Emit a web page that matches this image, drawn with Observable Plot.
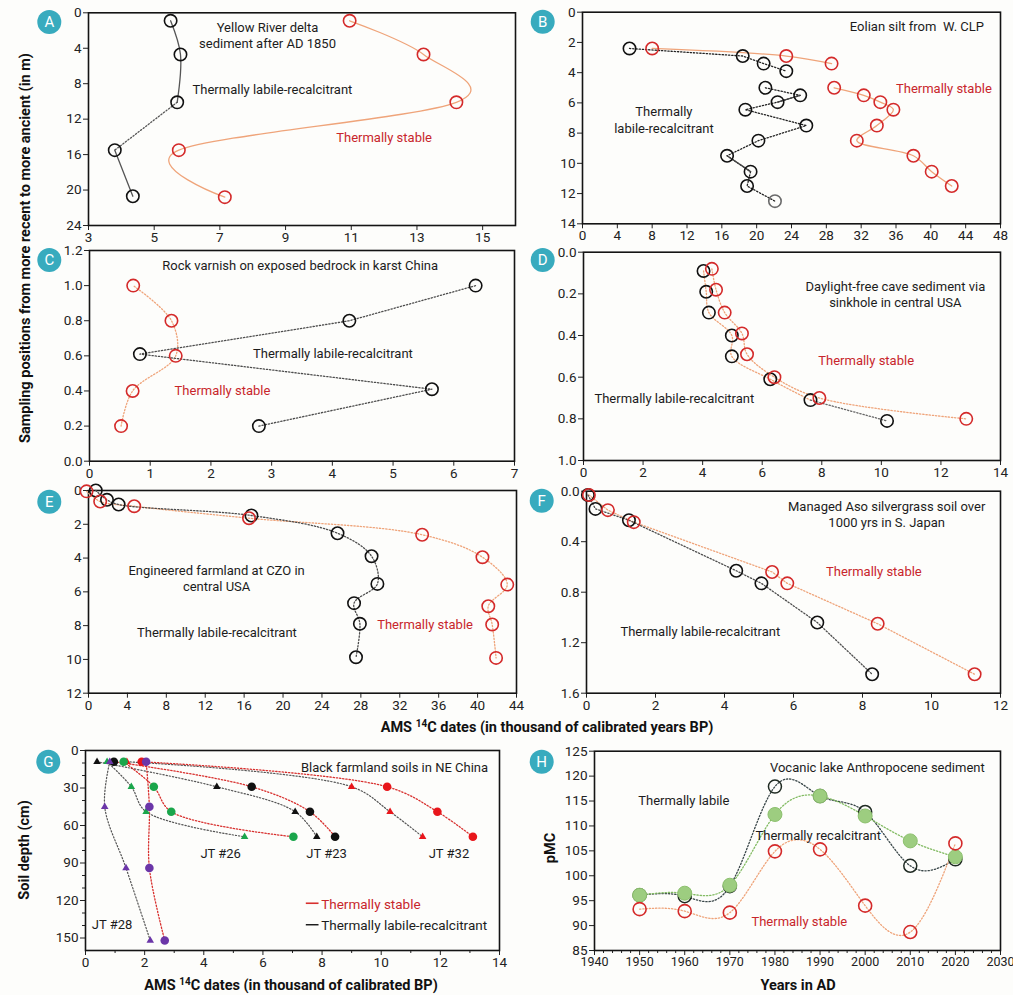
<!DOCTYPE html>
<html><head><meta charset="utf-8">
<script src="https://cdn.jsdelivr.net/npm/d3@7"></script>
<script src="https://cdn.jsdelivr.net/npm/@observablehq/plot@0.6"></script>
<style>
html,body{margin:0;padding:0;background:#fdfdfb;}
#fig{position:relative;width:1013px;height:995px;font-family:Roboto,sans-serif;}
#fig svg{position:absolute;left:0;top:0;}
</style></head><body><div id="fig"></div>
<script>
// ---------- DATA ----------
// Panel A: Yellow River delta (x: kyr BP, y: m)
const aLabX = [5.5, 5.8, 5.7, 3.8, 4.35];
const aLabY = [0.9, 4.7, 10.1, 15.5, 20.7];
const aStbX = [10.95, 13.2, 14.2, 5.75, 7.15];
const aStbY = [0.9, 4.7, 10.1, 15.5, 20.8];
// Panel B: Eolian silt W. CLP
const bLabX = [5.4, 18.4, 20.8, 23.4, 21.0, 25.0, 22.4, 18.7, 25.7, 20.2, 16.6, 19.3, 18.9, 22.1];
const bLabY = [2.4, 2.9, 3.4, 3.9, 5.0, 5.5, 5.95, 6.45, 7.5, 8.5, 9.5, 10.55, 11.5, 12.5];
const bStbX = [8.0, 23.4, 28.6, 28.9, 32.3, 34.2, 35.7, 33.8, 31.5, 38.0, 40.1, 42.4];
const bStbY = [2.4, 2.9, 3.4, 5.0, 5.5, 5.95, 6.45, 7.5, 8.5, 9.5, 10.55, 11.5];
// Panel C: Rock varnish
const cStbX = [0.52, 0.71, 1.42, 1.35, 0.72];
const cStbY = [0.2, 0.4, 0.6, 0.8, 1.0];
const cLabX = [2.79, 5.64, 0.83, 4.28, 6.36];
const cLabY = [0.2, 0.41, 0.61, 0.8, 1.0];
// Panel D: Cave sediment
const dLabX = [4.03, 4.12, 4.21, 4.98, 4.98, 6.27, 7.62, 10.19];
const dLabY = [0.09, 0.19, 0.29, 0.40, 0.50, 0.61, 0.71, 0.81];
const dStbX = [4.31, 4.45, 4.74, 5.32, 5.49, 6.41, 7.92, 12.85];
const dStbY = [0.08, 0.18, 0.29, 0.39, 0.49, 0.60, 0.70, 0.80];
// Panel E: Engineered farmland CZO
const eLabX = [0.75, 1.9, 3.1, 16.75, 25.6, 29.1, 29.7, 27.3, 27.9, 27.5];
const eLabY = [0.0, 0.55, 0.83, 1.48, 2.53, 3.89, 5.53, 6.67, 7.89, 9.87];
const eStbX = [-0.2, 1.2, 4.7, 16.5, 34.3, 40.5, 43.05, 41.1, 41.5, 41.9];
const eStbY = [0.05, 0.65, 0.93, 1.64, 2.62, 3.95, 5.57, 6.85, 7.93, 9.91];
// Panel F: Aso silvergrass soil
const fLabX = [0.04, 0.26, 1.23, 4.34, 5.07, 6.69, 8.28];
const fLabY = [0.03, 0.14, 0.23, 0.63, 0.73, 1.04, 1.45];
const fStbX = [0.07, 0.62, 1.37, 5.38, 5.82, 8.44, 11.25];
const fStbY = [0.03, 0.15, 0.245, 0.64, 0.73, 1.05, 1.45];
// Panel G: Black farmland soils (depth cm)
const gDepth = [9, 29, 49, 69];
const gDepth28 = [9, 45, 94, 152];
const gJT32Stb = [1.9, 10.2, 11.9, 13.1], gJT32Lab = [1.4, 9.0, 10.3, 11.4];
const gJT23Stb = [0.96, 5.62, 7.59, 8.44], gJT23Lab = [0.39, 4.44, 7.09, 7.82];
const gJT26Stb = [1.29, 2.31, 2.90, 7.03], gJT26Lab = [0.73, 1.55, 2.05, 5.38];
const gJT28Stb = [2.05, 2.16, 2.16, 2.68], gJT28Lab = [0.82, 0.65, 1.37, 2.19];
// Panel H: Volcanic lake (pMC)
const hYears = [1950, 1960, 1970, 1980, 1990, 2000, 2010, 2020];
const hLabile = [96.1, 95.9, 97.9, 117.9, 116.0, 112.8, 102.0, 103.3];
const hRecalc = [96.1, 96.5, 98.1, 112.3, 116.0, 112.0, 107.0, 103.8];
const hStable = [93.3, 92.9, 92.6, 104.9, 105.3, 94.0, 88.7, 106.5];

// ---------- HELPERS ----------
const W = 1013, H = 995;
const fig = document.getElementById("fig");
const P = (xs, ys) => xs.map((x, i) => ({x, y: ys[i]}));
const seq = (a, b, s) => d3.range(a, b + s / 2, s).map(v => +v.toFixed(6));
const red = "#d42a2a", orange = "#efa47a", blk = "#111", gray = "#4d4d4d", txtRed = "#c8262b", txt = "#1c1c1c";
const dash = "1.3,1.9";
const FS = 13;

function panel(c) {
  const axes = [
    Plot.axisX({ticks: c.xTicks, tickSize: 5, tickPadding: 2, label: null, anchor: "bottom", fontSize: c.xFont || 13.5, tickFormat: c.xFormat || d3.format("d"), color: "#222"}),
    Plot.axisY({ticks: c.yTicks, tickSize: 5, tickPadding: 2, label: null, anchor: "left", fontSize: 13.5, tickFormat: c.yFormat || d3.format("d"), color: "#222"})
  ];
  if (c.xMinor) axes.push(Plot.axisX({ticks: c.xMinor, tickSize: 3, fill: "none", label: null, anchor: "bottom", color: "#222"}));
  if (c.yMinor) axes.push(Plot.axisY({ticks: c.yMinor, tickSize: 3, fill: "none", label: null, anchor: "left", color: "#222"}));
  const svg = Plot.plot({
    width: W, height: H,
    marginLeft: c.x0, marginRight: W - c.x1, marginTop: c.y0, marginBottom: H - c.y1,
    x: {domain: c.xDomain},
    y: {domain: c.yDomain, reverse: !!c.yReverse},
    style: {background: "transparent", overflow: "visible", fontFamily: "Roboto, sans-serif", fontSize: "13px", color: "#1c1c1c"},
    marks: [...axes, Plot.frame({stroke: "#141414", strokeWidth: 1.6}), ...c.marks]
  });
  fig.append(svg);
}
const L = (data, o) => Plot.line(data, {x: "x", y: "y", strokeWidth: 1.3, ...o});
const circ = (data, col, r = 6.2) => Plot.dot(data, {x: "x", y: "y", r, stroke: col, strokeWidth: 1.6, fill: "none"});
const T = (x, y, text, fill = txt, o = {}) => Plot.text([{x, y}], {x: "x", y: "y", text: () => text, fill, fontSize: FS, lineHeight: 1.25, ...o});

// ---------- PANEL A ----------
const aLab = P(aLabX, aLabY), aStb = P(aStbX, aStbY);
panel({x0: 88, x1: 515, y0: 12.3, y1: 225, xDomain: [3, 16], yDomain: [0, 24], yReverse: true,
  xTicks: seq(3, 15, 2), yTicks: seq(0, 24, 4),
  marks: [
    L(aStb, {stroke: orange, curve: "cardinal"}),
    L(aLab.slice(0, 3), {stroke: "#555", curve: "catmull-rom"}),
    L(aLab.slice(2, 4), {stroke: "#555", strokeDasharray: dash}),
    L(aLab.slice(3, 5), {stroke: "#555"}),
    circ(aLab, blk), circ(aStb, red),
    T(8.45, 2.45, "Yellow River delta\nsediment after AD 1850"),
    T(8.6, 8.57, "Thermally labile-recalcitrant"),
    T(12.0, 14.04, "Thermally stable", txtRed)
  ]});

// ---------- PANEL B ----------
const bLab = P(bLabX, bLabY), bStb = P(bStbX, bStbY);
panel({x0: 582, x1: 1000, y0: 11.7, y1: 223.3, xDomain: [0, 48], yDomain: [0, 14], yReverse: true,
  xTicks: seq(0, 48, 4), yTicks: seq(0, 14, 2),
  marks: [
    L(bStb.slice(0, 3), {stroke: orange, curve: "catmull-rom"}),
    L(bStb.slice(3), {stroke: orange, curve: "catmull-rom"}),
    L(bLab.slice(0, 4), {stroke: "#222", strokeDasharray: dash}),
    L(bLab.slice(4), {stroke: "#222", strokeDasharray: dash}),
    L(bLab.slice(5, 7), {stroke: "#444"}),
    L(bLab.slice(10, 12), {stroke: "#444"}),
    circ(bLab.slice(0, 13), blk), circ(bLab.slice(13), "#6a6a6a"), circ(bStb, red),
    T(38.4, 0.88, "Eolian silt from  W. CLP"),
    T(9.35, 7.09, "Thermally\nlabile-recalcitrant"),
    T(41.5, 5.0, "Thermally stable", txtRed)
  ]});

// ---------- PANEL C ----------
const cLab = P(cLabX, cLabY), cStb = P(cStbX, cStbY);
panel({x0: 89, x1: 514, y0: 250, y1: 460.7, xDomain: [0, 7], yDomain: [0, 1.2],
  xTicks: seq(0, 7, 1), yTicks: seq(0, 1.2, 0.2), yFormat: d3.format(".1f"),
  marks: [
    L(cStb, {stroke: orange, strokeDasharray: dash, curve: "catmull-rom"}),
    L(cLab, {stroke: gray, strokeDasharray: dash}),
    circ(cLab, blk), circ(cStb, red),
    T(3.47, 1.118, "Rock varnish on exposed bedrock in karst China"),
    T(4.01, 0.617, "Thermally labile-recalcitrant"),
    T(2.19, 0.408, "Thermally stable", txtRed)
  ]});

// ---------- PANEL D ----------
const dLab = P(dLabX, dLabY), dStb = P(dStbX, dStbY);
panel({x0: 583, x1: 1000, y0: 251.7, y1: 460, xDomain: [0, 14], yDomain: [0, 1], yReverse: true,
  xTicks: seq(0, 14, 2), yTicks: seq(0, 1, 0.2), yFormat: d3.format(".1f"),
  marks: [
    L(dLab.slice(0, 7), {stroke: orange, strokeDasharray: dash, curve: "catmull-rom"}),
    L(dLab.slice(6), {stroke: "#666", strokeDasharray: dash}),
    L(dStb, {stroke: orange, strokeDasharray: dash, curve: "catmull-rom"}),
    circ(dLab, blk), circ(dStb, red),
    T(10.47, 0.2, "Daylight-free cave sediment via\nsinkhole in central USA"),
    T(9.49, 0.517, "Thermally stable", txtRed),
    T(3.05, 0.70, "Thermally labile-recalcitrant")
  ]});

// ---------- PANEL E ----------
const eLab = P(eLabX, eLabY), eStb = P(eStbX, eStbY);
panel({x0: 88, x1: 516, y0: 490, y1: 692.7, xDomain: [0, 44], yDomain: [0, 12], yReverse: true,
  xTicks: seq(0, 44, 4), yTicks: seq(0, 12, 2),
  marks: [
    L(eStb, {stroke: orange, strokeDasharray: dash, curve: "catmull-rom"}),
    L(eLab, {stroke: gray, strokeDasharray: dash, curve: "catmull-rom"}),
    circ(eLab, blk), circ(eStb, red),
    T(13.17, 5.16, "Engineered farmland at CZO in\ncentral USA"),
    T(13.2, 8.39, "Thermally labile-recalcitrant"),
    T(34.6, 7.9, "Thermally stable", txtRed)
  ]});

// ---------- PANEL F ----------
const fLab = P(fLabX, fLabY), fStb = P(fStbX, fStbY);
panel({x0: 586, x1: 1000, y0: 490.7, y1: 692.7, xDomain: [0, 12], yDomain: [0, 1.6], yReverse: true,
  xTicks: seq(0, 12, 2), yTicks: seq(0, 1.6, 0.4), yFormat: d3.format(".1f"),
  marks: [
    L(fStb, {stroke: orange, strokeDasharray: dash}),
    L(fLab, {stroke: gray, strokeDasharray: dash}),
    circ(fLab, blk), circ(fStb, red),
    T(8.7, 0.182, "Managed Aso silvergrass soil over\n1000 yrs in S. Japan"),
    T(8.33, 0.634, "Thermally stable", txtRed),
    T(3.3, 1.109, "Thermally labile-recalcitrant")
  ]});

// ---------- PANEL G ----------
const gSites = [
  {stb: P(gJT32Stb, gDepth), lab: P(gJT32Lab, gDepth), col: "#e8161b"},
  {stb: P(gJT23Stb, gDepth), lab: P(gJT23Lab, gDepth), col: "#111111"},
  {stb: P(gJT26Stb, gDepth), lab: P(gJT26Lab, gDepth), col: "#1aa64b"},
  {stb: P(gJT28Stb, gDepth28), lab: P(gJT28Lab, gDepth28), col: "#6b36a8"}
];
const gMarks = [];
for (const s of gSites) {
  gMarks.push(L(s.lab, {stroke: "#555", strokeWidth: 1.2, strokeDasharray: dash, curve: "catmull-rom"}));
  gMarks.push(L(s.stb, {stroke: "#d8302e", strokeWidth: 1.3, strokeDasharray: dash, curve: "catmull-rom"}));
}
for (const s of gSites) {
  gMarks.push(Plot.dot(s.lab, {x: "x", y: "y", symbol: "triangle", r: 2.8, fill: s.col}));
  gMarks.push(Plot.dot(s.stb, {x: "x", y: "y", r: 4.3, fill: s.col}));
}
panel({x0: 85, x1: 499, y0: 750, y1: 950, xDomain: [0, 14], yDomain: [0, 160], yReverse: true,
  xTicks: seq(0, 14, 2), yTicks: seq(0, 150, 30), xMinor: seq(1, 13, 2), yMinor: [10, 20, 40, 50, 70, 80, 100, 110, 130, 140],
  marks: [...gMarks,
    T(10.45, 12.8, "Black farmland soils in NE China"),
    T(4.57, 82, "JT #26"), T(8.15, 82, "JT #23"), T(12.29, 82, "JT #32"), T(0.9, 138.7, "JT #28"),
    Plot.link([{x1: 7.45, x2: 7.88, y: 122.2}], {x1: "x1", x2: "x2", y1: "y", y2: "y", stroke: "#d8302e", strokeWidth: 1.6}),
    Plot.link([{x1: 7.45, x2: 7.88, y: 139.4}], {x1: "x1", x2: "x2", y1: "y", y2: "y", stroke: "#111", strokeWidth: 1.4}),
    T(7.97, 122.2, "Thermally stable", txtRed, {textAnchor: "start", fontSize: 13.5}),
    T(7.97, 139.4, "Thermally labile-recalcitrant", txt, {textAnchor: "start", fontSize: 13.5})
  ]});

// ---------- PANEL H ----------
const hLab = P(hYears, hLabile), hRec = P(hYears, hRecalc), hStb = P(hYears, hStable);
panel({x0: 594, x1: 1000, y0: 750.7, y1: 950, xDomain: [1940, 2030], yDomain: [85, 125],
  xTicks: seq(1940, 2030, 10), yTicks: seq(85, 125, 5), xFont: 12.5,
  xMinor: seq(1942, 2028, 2).filter(v => v % 10 !== 0),
  marks: [
    L(hLab, {stroke: "#394648", strokeDasharray: dash, curve: "natural"}),
    L(hRec, {stroke: "#82bb62", strokeDasharray: dash, curve: "natural"}),
    L(hStb, {stroke: orange, strokeDasharray: dash, curve: "natural"}),
    Plot.dot(hLab, {x: "x", y: "y", r: 6.5, stroke: "#1f2a22", strokeWidth: 1.5, fill: "none"}),
    Plot.dot(hRec, {x: "x", y: "y", r: 7, fill: "#9dcd80", stroke: "#8cc06d", strokeWidth: 1}),
    circ(hStb, red, 6.5),
    T(2002.7, 121.93, "Vocanic lake Anthropocene sediment"),
    T(1959.8, 115.2, "Thermally labile"),
    T(1989.6, 108.2, "Thermally recalcitrant"),
    T(1985.4, 90.9, "Thermally stable", txtRed)
  ]});

// ---------- OVERLAY: shared titles & panel badges ----------
const ov = d3.create("svg").attr("width", W).attr("height", H).attr("font-family", "Roboto, sans-serif");
const badges = [["A", 49.3, 22], ["B", 542.7, 21.7], ["C", 49.3, 260], ["D", 542.7, 260],
                ["E", 49.3, 501.7], ["F", 541.7, 500.7], ["G", 48.3, 761.7], ["H", 541.7, 761.7]];
for (const [l, cx, cy] of badges) {
  ov.append("circle").attr("cx", cx).attr("cy", cy).attr("r", 12).attr("fill", "#38abbe");
  ov.append("text").attr("x", cx).attr("y", cy + 5.3).attr("text-anchor", "middle").attr("fill", "#fff").attr("font-size", 15).text(l);
}
function title(x, y, rot, parts) {
  const t = ov.append("text").attr("transform", `translate(${x},${y})` + (rot ? " rotate(-90)" : ""))
    .attr("text-anchor", "middle").attr("font-weight", "bold").attr("font-size", 14.5).attr("fill", "#111");
  for (const [s, sup] of parts) {
    t.append("tspan").attr("font-size", sup ? 10 : null).attr("dy", sup ? -5 : (t.selectAll("tspan").size() > 0 ? 5 : 0)).text(s);
  }
}
title(25, 248, true, [["Sampling positions from more recent to more ancient  (in m)", false]]);
title(547, 727, false, [["AMS ", false], ["14", true], ["C dates (in thousand of calibrated years BP)", false]]);
title(291, 985, false, [["AMS ", false], ["14", true], ["C dates (in thousand of calibrated BP)", false]]);
title(23.5, 850, true, [["Soil depth (cm)", false]]);
title(550, 848, true, [["pMC", false]]);
title(798, 985, false, [["Years in AD", false]]);
fig.append(ov.node());
</script></body></html>
